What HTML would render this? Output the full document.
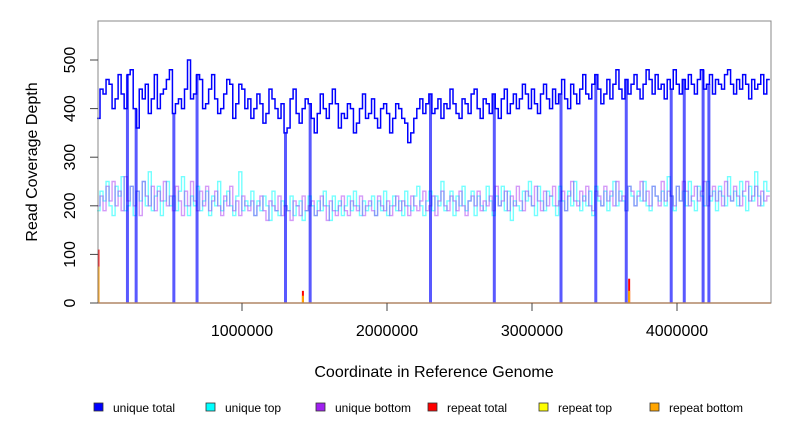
<!DOCTYPE html>
<html><head><meta charset="utf-8"><style>
body{margin:0;background:#fff;font-family:"Liberation Sans",sans-serif}
svg text{font-family:"Liberation Sans",sans-serif;fill:#000}
</style></head><body>
<svg id="chart" width="792" height="432">
<g id="plot"></g>
<rect x="98" y="21" width="673" height="282" fill="none" stroke="#888"/>
<g id="axes"></g>
<text x="37" y="162" font-size="16" text-anchor="middle" transform="rotate(-90 37 162)">Read Coverage Depth</text>
<text x="434" y="377" font-size="16" text-anchor="middle">Coordinate in Reference Genome</text>
<g id="legend"></g>
</svg>
<script>
const genomeLength = 4640000;
const uniqueTotal = [380,440,430,460,450,400,420,470,430,400,
470,480,400,360,440,420,450,390,420,470,
400,430,440,460,480,390,410,420,400,440,
500,420,430,470,460,400,410,440,470,420,
390,400,430,460,450,380,410,450,440,400,
420,380,400,430,410,370,390,440,420,400,
380,410,350,360,420,440,390,370,400,420,
410,380,350,390,430,400,380,410,440,410,
360,390,380,410,400,350,370,400,430,380,
390,420,380,360,400,410,390,350,380,410,
400,380,370,330,350,380,400,420,390,410,
430,390,400,420,380,410,400,440,410,390,
380,420,410,390,430,440,400,380,420,410,
390,430,400,380,420,440,390,410,430,400,
420,450,430,400,440,410,390,430,450,420,
400,440,410,430,460,420,400,450,430,410,
440,470,430,420,450,470,440,410,430,460,
420,450,480,440,420,460,430,450,470,440,
420,450,480,460,430,470,440,450,420,460,
440,480,450,430,460,440,470,450,430,460,
480,440,450,470,430,460,450,440,470,480,
450,430,460,440,470,450,420,460,440,450,
470,430,460];
const uniqueTop = [190,230,210,250,200,180,240,220,260,190,
200,240,180,230,210,250,200,270,190,220,
240,180,210,250,200,220,190,230,260,200,
180,220,200,240,190,210,230,180,220,200,
250,190,210,230,200,180,220,270,190,210,
200,230,180,210,190,220,200,170,230,190,
180,210,200,190,220,180,200,210,170,190,
220,200,180,210,190,230,200,170,220,190,
210,180,200,220,190,230,200,180,210,190,
200,220,180,210,190,230,180,200,220,190,
210,180,230,200,190,220,240,200,180,210,
230,190,220,200,250,190,210,230,180,220,
200,240,190,210,230,180,220,200,190,240,
210,180,220,200,240,190,230,170,210,200,
190,230,210,250,200,180,240,210,190,230,
220,200,180,240,210,190,230,200,250,210,
190,220,200,230,180,240,210,200,230,190,
220,250,200,230,210,190,240,220,200,230,
210,250,200,190,240,220,210,230,200,260,
220,190,240,210,230,200,250,210,190,240,
220,200,250,210,230,190,240,220,200,260,
210,230,200,250,220,190,240,210,270,220,
200,250,230];
const uniqueBottom = [200,220,190,240,210,250,200,230,190,260,
210,240,200,230,180,250,220,200,240,190,
230,210,250,200,220,190,240,210,180,230,
200,250,210,190,230,200,240,190,210,230,
200,180,220,200,240,190,210,180,220,200,
190,210,180,200,220,190,170,210,200,190,
220,180,200,190,170,210,200,180,220,190,
200,210,180,190,220,200,170,210,190,180,
200,220,190,180,210,200,190,220,180,200,
210,190,180,220,200,190,210,180,200,220,
190,210,200,180,220,200,190,210,230,190,
200,220,180,210,230,200,190,220,210,190,
230,200,180,210,220,200,230,190,210,200,
220,190,240,200,210,230,190,220,200,240,
210,190,230,220,200,240,210,190,230,200,
220,240,200,210,230,190,220,250,210,200,
230,210,240,200,190,230,220,200,240,210,
230,200,250,210,220,190,240,230,200,220,
250,210,230,200,240,220,200,250,210,230,
220,200,240,210,250,230,200,220,240,210,
230,250,200,220,240,210,230,200,250,220,
210,240,220,200,230,250,210,220,240,200,
230,210,220];
const dropouts = [210000,270000,530000,690000,1300000,1470000,2300000,2740000,3200000,3440000,3650000,3960000,4050000,4180000,4220000];
const repeatPos = [10000,1420000,3670000];
const repeatTotal = [110,25,50];
const repeatBottomPos = [10000,1420000,3670000];
const repeatBottom = [75,15,25];
const xTicks = [1000000,2000000,3000000,4000000];
const yTicks = [0,100,200,300,400,500];
const legendLabels = ["unique total","unique top","unique bottom","repeat total","repeat top","repeat bottom"];
const legendColors = ["#0000ff","#00ffff","#a020f0","#ff0000","#ffff00","#ffa500"];

const NS="http://www.w3.org/2000/svg";
const X = v => 97 + v/1000000*145;
const Y = v => 303 - v*0.486;
const plot=document.getElementById('plot'), axes=document.getElementById('axes'), legend=document.getElementById('legend');
function mk(tag, attrs, parent){const e=document.createElementNS(NS,tag);for(const k in attrs)e.setAttribute(k,attrs[k]);parent.appendChild(e);return e;}
function stepPath(vals){const s=genomeLength/vals.length;let d='';vals.forEach((v,i)=>{const x0=X(i*s),x1=X((i+1)*s);d+=(i?'L':'M')+x0+' '+Y(v)+'L'+x1+' '+Y(v);});return d;}
let p=mk('path',{d:stepPath(uniqueTop),fill:'none',stroke:'#00ffff','stroke-opacity':0.55,'stroke-width':1.4},plot);

p=mk('path',{d:stepPath(uniqueBottom),fill:'none',stroke:'#a020f0','stroke-opacity':0.45,'stroke-width':1.4},plot);

p=mk('path',{d:stepPath(uniqueTotal),fill:'none',stroke:'#0000ff','stroke-width':1.5},plot);

repeatPos.forEach((d,i)=>{const l=mk('line',{x1:X(d),x2:X(d),y1:Y(0),y2:Y(repeatTotal[i]),stroke:'#ff0000','stroke-width':2},plot);
});
const ts=genomeLength/uniqueTotal.length;
dropouts.forEach(d=>{const l=mk('line',{x1:X(d),x2:X(d),y1:Y(0),y2:Y(uniqueTotal[Math.min(Math.floor(d/ts),uniqueTotal.length-1)]),stroke:'#0000ff','stroke-opacity':0.65,'stroke-width':3},plot);
});
repeatBottomPos.forEach((d,i)=>{const l=mk('line',{x1:X(d),x2:X(d),y1:Y(0),y2:Y(repeatBottom[i]),stroke:'#ffa500','stroke-width':2},plot);
});
let b=mk('line',{x1:98,x2:771,y1:Y(0),y2:Y(0),stroke:'#ff8020','stroke-width':1.5},plot);

xTicks.forEach(t=>{const l=mk('line',{x1:X(t),x2:X(t),y1:303,y2:311,stroke:'#444'},axes);

const tx=mk('text',{x:X(t),y:336,'font-size':16,'text-anchor':'middle'},axes);tx.textContent=t;
});
yTicks.forEach(t=>{const l=mk('line',{x1:90,x2:98,y1:Y(t),y2:Y(t),stroke:'#444'},axes);

const tx=mk('text',{x:75,y:Y(t),'font-size':16,'text-anchor':'middle',transform:`rotate(-90 75 ${Y(t)})`},axes);tx.textContent=t;
});
const lx=[94,206,316,428,539,650];
legendLabels.forEach((s,i)=>{const r=mk('rect',{x:lx[i],y:403,width:9,height:8,fill:legendColors[i],stroke:'#333','stroke-width':0.8},legend);

const t=mk('text',{x:lx[i]+19,y:412,'font-size':12},legend);t.textContent=s;
});
</script>
</body></html>
